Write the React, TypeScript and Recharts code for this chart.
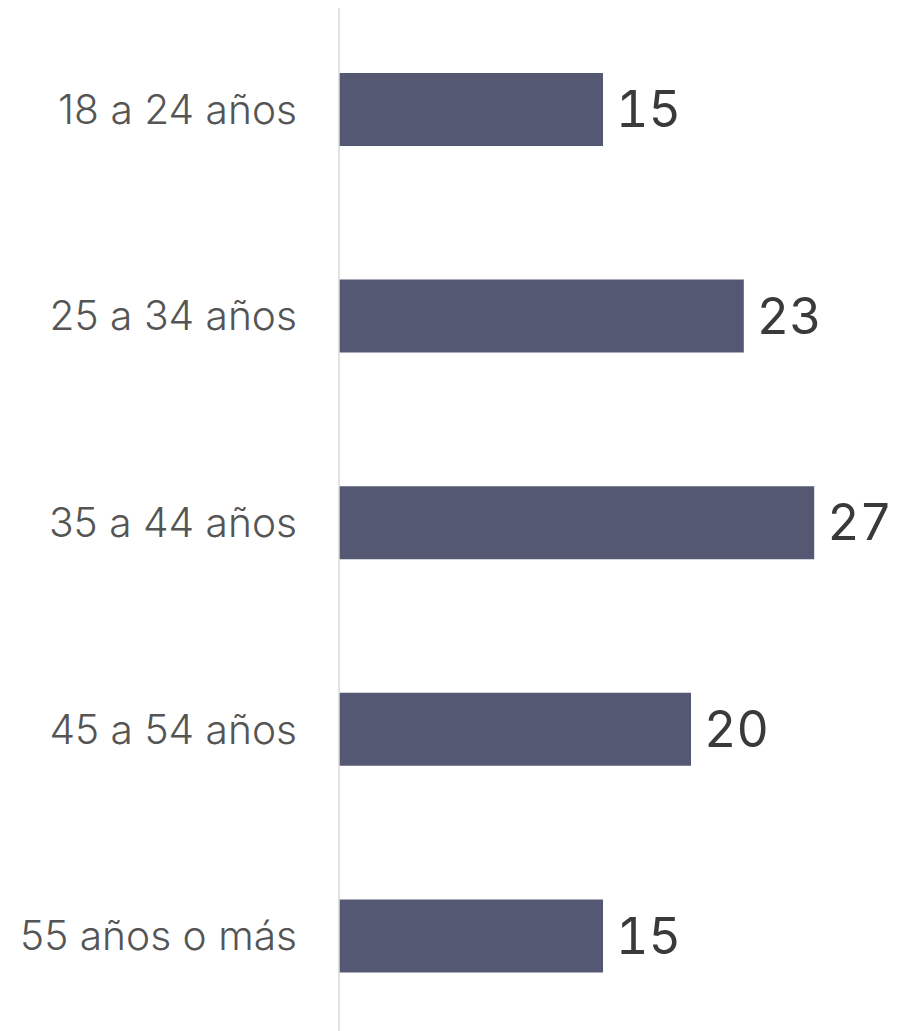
import { BarChart, Bar, XAxis, YAxis, LabelList } from "recharts";

const categories = ["18 a 24 años", "25 a 34 años", "35 a 44 años", "45 a 54 años", "55 años o más"];
const values = [15, 23, 27, 20, 15];

const data = categories.map((name, i) => ({ name, value: values[i] }));

export default function App() {
  return (
    <div style={{ marginTop: -2, fontFamily: "Inter, sans-serif" }}>
      <BarChart
        width={900}
        height={1033}
        data={data}
        layout="vertical"
        margin={{ top: 0, right: 41, bottom: 0, left: 0 }}
      >
        <XAxis type="number" domain={[0, 30]} hide />
        <YAxis
          type="category"
          dataKey="name"
          width={331}
          tickLine={false}
          tickSize={0}
          tickMargin={42}
          axisLine={{ stroke: "#d9d9d9", strokeWidth: 1.5 }}
          tick={{ fontSize: 40.7, fontWeight: 300, fill: "#555555", fontFamily: "Inter, sans-serif" }}
        />
        <Bar dataKey="value" fill="#545872" barSize={73} isAnimationActive={false}>
          <LabelList
            dataKey="value"
            position="right"
            offset={13}
            style={{
              fontSize: 50,
              fill: "#3a3a3a",
              fontFamily: "Inter, sans-serif",
              fontFeatureSettings: '"tnum"',
            }}
          />
        </Bar>
      </BarChart>
    </div>
  );
}
